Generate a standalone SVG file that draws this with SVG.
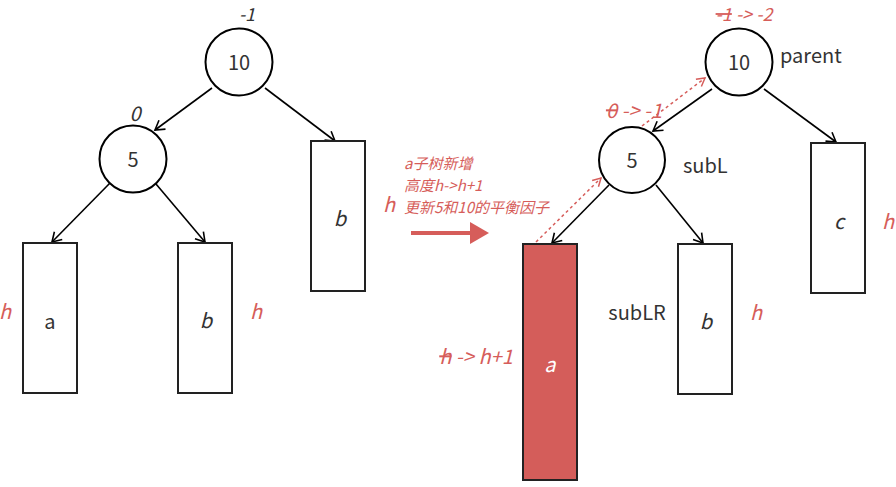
<svg xmlns="http://www.w3.org/2000/svg" width="896" height="487" viewBox="0 0 896 487">
<defs>
<marker id="ah" markerUnits="userSpaceOnUse" markerWidth="14" markerHeight="14" refX="11" refY="7" orient="auto">
<path d="M2,1.5 L11,7 L2,12.5" fill="none" stroke="#000" stroke-width="1.6"/>
</marker>
<marker id="ahr" markerUnits="userSpaceOnUse" markerWidth="14" markerHeight="14" refX="10" refY="6" orient="auto">
<path d="M2,1.5 L10,6 L2,10.5" fill="none" stroke="#d65d5a" stroke-width="1.5"/>
</marker>
<marker id="big" markerUnits="userSpaceOnUse" markerWidth="20" markerHeight="24" refX="0" refY="11" orient="auto">
<path d="M0,0 L19,11 L0,22 Z" fill="#d65d5a"/>
</marker>
</defs>
<style>
.n{fill:#fff;stroke:#000;stroke-width:2}
.r{fill:#fff;stroke:#222;stroke-width:2}
.t{font-family:"Noto Sans CJK SC","Noto Sans",sans-serif;font-size:20px;fill:#333;text-anchor:middle}
.i{font-style:italic}
.red{font-family:"Noto Sans CJK SC","Noto Sans",sans-serif;font-size:20px;fill:#d65d5a;font-style:italic;text-anchor:middle}
.top{font-size:18px}
.note{font-family:"Noto Sans CJK SC","Noto Sans",sans-serif;font-size:15px;fill:#d65d5a;font-style:italic}
.e{stroke:#000;stroke-width:1.6;fill:none;marker-end:url(#ah)}
.d{stroke:#d65d5a;stroke-width:1.5;fill:none;stroke-dasharray:3 3;marker-end:url(#ahr)}
</style>
<g id="connectors">
<line class="e" x1="212" y1="88" x2="155" y2="130"/>
<line class="e" x1="265" y1="88" x2="335" y2="141"/>
<line class="e" x1="110" y1="183" x2="52" y2="242"/>
<line class="e" x1="156" y1="184" x2="205" y2="242"/>
<line class="e" x1="712" y1="89" x2="653" y2="131"/>
<line class="e" x1="764" y1="89" x2="836" y2="142"/>
<line class="e" x1="609" y1="185" x2="552" y2="243"/>
<line class="e" x1="656" y1="185" x2="703" y2="243"/>
<line class="d" x1="536" y1="242" x2="601" y2="178"/>
<line class="d" x1="642" y1="126" x2="705" y2="78"/>
<line stroke="#d65d5a" stroke-width="4" x1="411" y1="233" x2="470" y2="233" marker-end="url(#big)"/>
</g>
<g id="L10">
<circle class="n" cx="239" cy="62" r="33.5"/>
<text class="t" x="239" y="70">10</text>
<text class="t i top" x="247" y="21">-1</text>
</g>
<g id="L5">
<circle class="n" cx="133" cy="159" r="33.5"/>
<text class="t" x="133" y="167">5</text>
<text class="t i" x="135" y="121">0</text>
</g>
<g id="La">
<rect class="r" x="23" y="243" width="54" height="150"/>
<text class="t" x="50" y="329">a</text>
<text class="red" x="5" y="319">h</text>
</g>
<g id="Lb1">
<rect class="r" x="178" y="243" width="54" height="150"/>
<text class="t i" x="206" y="328">b</text>
<text class="red" x="256" y="319">h</text>
</g>
<g id="Lb2">
<rect class="r" x="311" y="141" width="54" height="150"/>
<text class="t i" x="340" y="226">b</text>
<text class="red" x="389" y="212">h</text>
</g>
<g id="note">
<text class="note" x="404" y="169">a子树新增</text>
<text class="note" x="404" y="191">高度h-&gt;h+1</text>
<text class="note" x="404" y="213">更新5和10的平衡因子</text>
</g>
<g id="R10">
<circle class="n" cx="739" cy="62" r="33.5"/>
<text class="t" x="739" y="70">10</text>
<text class="red top" x="744" y="21"><tspan text-decoration="line-through">-1</tspan> -&gt; -2</text>
<text class="t" x="780" y="63" style="text-anchor:start">parent</text>
</g>
<g id="R5">
<circle class="n" cx="632" cy="160" r="33"/>
<text class="t" x="632" y="168">5</text>
<text class="red" x="634" y="118"><tspan text-decoration="line-through">0</tspan> -&gt; -1</text>
<text class="t" x="683" y="173" style="text-anchor:start">subL</text>
</g>
<g id="Ra">
<rect x="523" y="244" width="54" height="236" fill="#d45d5a" stroke="#222" stroke-width="2"/>
<text class="t i" x="550" y="372" style="fill:#fff">a</text>
<text class="red" x="476" y="364"><tspan text-decoration="line-through">h</tspan> -&gt; h+1</text>
</g>
<g id="Rb">
<rect class="r" x="678" y="244" width="54" height="150"/>
<text class="t i" x="706" y="329">b</text>
<text class="red" x="756" y="320">h</text>
<text class="t" x="637" y="320">subLR</text>
</g>
<g id="Rc">
<rect class="r" x="811" y="143" width="54" height="150"/>
<text class="t i" x="839" y="229">c</text>
<text class="red" x="888" y="229">h</text>
</g>
</svg>
